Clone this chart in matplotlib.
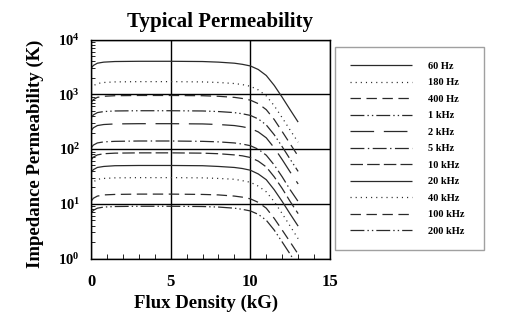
import numpy as np
import matplotlib
matplotlib.use("Agg")
from matplotlib import pyplot as plt
from matplotlib.ticker import LogLocator, LogFormatterMathtext, MultipleLocator

plt.rcParams['font.family'] = 'Liberation Serif'
plt.rcParams['font.weight'] = 'bold'
plt.rcParams['mathtext.fontset'] = 'custom'
plt.rcParams['mathtext.rm'] = 'Liberation Serif:bold'
plt.rcParams['mathtext.bf'] = 'Liberation Serif:bold'
plt.rcParams['lines.scale_dashes'] = False

# flux density sample points (kG)
flux = [0, 0.15, 0.4, 0.8, 1.5, 3, 5, 7, 8, 9, 9.5, 10, 10.5, 11, 11.5, 12, 12.5, 13]

labels = ['60 Hz', '180 Hz', '400 Hz', '1 kHz', '2 kHz', '5 kHz',
          '10 kHz', '20 kHz', '40 kHz', '100 kHz', '200 kHz']

perm_60 = [2960, 3360, 3690, 3860, 3960, 4000, 4000, 3960, 3860, 3690, 3520, 3290, 2830, 2200, 1450, 880, 520, 310]
perm_180 = [1260, 1430, 1570, 1640, 1680, 1700, 1700, 1680, 1640, 1570, 1500, 1400, 1200, 935, 617, 372, 221, 133]
perm_400 = [704, 799, 877, 918, 940, 950, 950, 940, 918, 877, 837, 781, 673, 523, 345, 208, 124, 74]
perm_1k = [370, 420, 462, 483, 495, 500, 500, 495, 483, 462, 440, 411, 354, 275, 182, 110, 65, 39]
perm_2k = [215, 244, 268, 280, 287, 290, 290, 287, 280, 268, 255, 238, 205, 160, 105, 64, 38, 23]
perm_5k = [104, 118, 129, 135, 138, 140, 140, 138, 135, 129, 123, 115, 99, 77, 51, 31, 18, 11]
perm_10k = [63, 71, 78, 82, 84, 85, 85, 84, 82, 78, 75, 70, 60, 47, 31, 19, 11, 6.6]
perm_20k = [37, 42, 46, 48, 49.5, 50, 50, 49.5, 48, 46, 44, 41, 35, 27.5, 18, 11, 6.5, 3.9]
perm_40k = [22, 25, 28, 29, 29.7, 30, 30, 29.7, 29, 28, 26.4, 24.7, 21, 16.5, 10.9, 6.6, 3.9, 2.3]
perm_100k = [11.1, 12.6, 13.8, 14.5, 14.8, 15, 15, 14.8, 14.5, 13.8, 13.2, 12.3, 10.6, 8.3, 5.4, 3.3, 2.0, 1.2]
perm_200k = [6.7, 7.6, 8.3, 8.7, 8.9, 9, 9, 8.9, 8.7, 8.3, 7.9, 7.4, 6.4, 5.0, 3.3, 2.0, 1.2, 0.7]

curves = [perm_60, perm_180, perm_400, perm_1k, perm_2k, perm_5k,
          perm_10k, perm_20k, perm_40k, perm_100k, perm_200k]

solid = (0, ())
dotted = (0, (0.8, 2.9))
dashed = (0, (7.5, 4))
dashdotdot = (0, (10, 2.2, 1, 2.2, 1, 2.2))
longdash = (0, (17, 7))
dashdot = (0, (10, 2.5, 1, 2.5))
meddash = (0, (9, 3))
styles = [solid, dotted, dashed, dashdotdot, longdash, dashdot,
          meddash, solid, dotted, dashed, dashdotdot]

fig = plt.figure(figsize=(5.28, 3.34), dpi=100)
ax = fig.add_axes([91/528, 1-258.5/334, 239/528, 219/334])

for vals, ls, lab in zip(curves, styles, labels):
    ax.plot(flux, vals, color='#2a2a2a', lw=0.9, linestyle=ls, label=lab)

ax.set_yscale('log')
ax.set_xlim(0, 15)
ax.set_ylim(1, 1e4)
ax.xaxis.set_major_locator(MultipleLocator(5))
ax.xaxis.set_minor_locator(MultipleLocator(1))
ax.yaxis.set_major_locator(LogLocator(base=10, numticks=10))
ax.yaxis.set_minor_locator(LogLocator(base=10, subs=np.arange(2, 10), numticks=10))
ax.yaxis.set_major_formatter(LogFormatterMathtext())
ax.grid(True, which='major', color='black', lw=1)

ax.tick_params(axis='both', which='both', direction='in', top=False, right=False, color='black')
ax.tick_params(axis='x', which='major', length=0, pad=11, labelsize=12)
ax.tick_params(axis='x', which='minor', length=3.5)
ax.tick_params(axis='y', which='major', length=0, pad=8, labelsize=10.5)
ax.tick_params(axis='y', which='minor', length=3)
for s in ax.spines.values():
    s.set_linewidth(1)
    s.set_color('black')

fig.text(220/528, 1-22/334, 'Typical Permeability', ha='center', va='center',
         fontsize=15, fontweight='bold')
fig.text(206/528, 1-303/334, 'Flux Density (kG)', ha='center', va='center',
         fontsize=13.5, fontweight='bold')
fig.text(35/528, 1-154/334, 'Impedance Permeability (K)', ha='center', va='center',
         rotation=90, fontsize=13.5, fontweight='bold')

leg = ax.legend(loc='upper left', bbox_to_anchor=(335/528, 1-249/334, 149/528, 202/334),
                bbox_transform=fig.transFigure, mode='expand', fontsize=7.5,
                handlelength=6, handletextpad=1.5, labelspacing=0.69,
                borderpad=1.4, fancybox=False, frameon=True, borderaxespad=0)
leg.get_frame().set_edgecolor('#888888')
leg.get_frame().set_linewidth(1)
for t in leg.get_texts():
    t.set_fontweight('bold')

fig.savefig('out.png', dpi=100)
